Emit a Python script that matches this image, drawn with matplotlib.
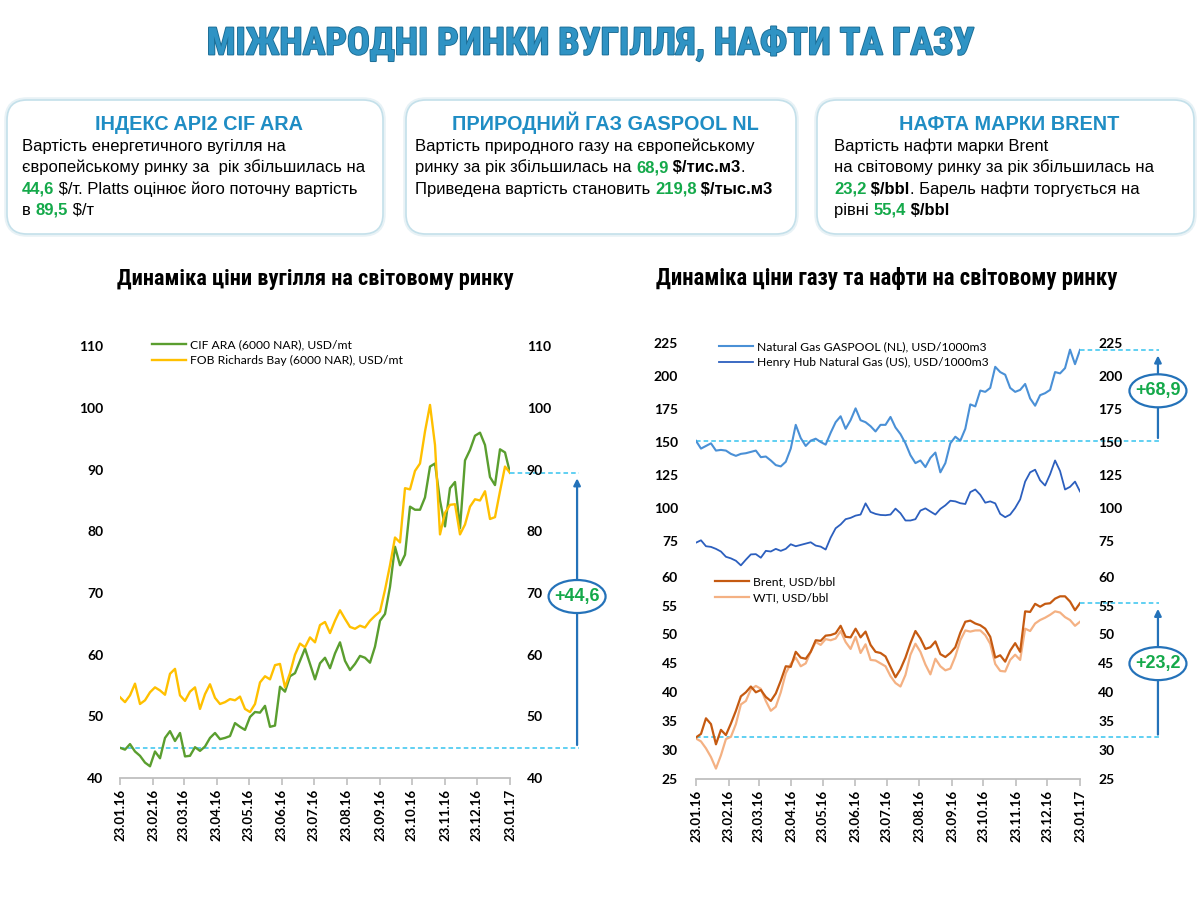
import matplotlib
matplotlib.use('Agg')
import matplotlib.pyplot as plt
import matplotlib.dates as mdates
import matplotlib.transforms as mtransforms
import matplotlib.patheffects as pe
from matplotlib import font_manager
from matplotlib.patches import FancyBboxPatch, Ellipse
import pandas as pd

# ---------------- data ----------------
cif_ara = [44.9, 44.6, 45.5, 44.3, 43.6, 42.5, 41.9, 44.3, 43.2, 46.5,
           47.6, 46.0, 47.3, 43.5, 43.6, 45.0, 44.4, 45.1, 46.5, 47.3,
           46.3, 46.5, 46.8, 48.9, 48.3, 47.8, 49.9, 50.7, 50.6, 51.7,
           48.3, 48.5, 54.8, 54.0, 56.5, 57.0, 59.0, 61.0, 58.5, 56.0,
           58.6, 59.5, 57.8, 60.2, 62.0, 59.0, 57.5, 58.5, 59.8, 59.5,
           58.7, 61.3, 65.5, 66.6, 71.0, 77.5, 74.5, 76.2, 84.0, 83.5,
           83.5, 85.5, 90.5, 91.0, 85.0, 80.8, 87.0, 88.0, 80.5, 91.5,
           93.2, 95.5, 96.0, 94.0, 88.8, 87.5, 93.3, 92.8, 89.5]
fob_richards = [53.1, 52.3, 53.4, 55.3, 52.0, 52.6, 53.9, 54.7, 54.2, 53.5,
                56.9, 57.7, 53.4, 52.5, 54.0, 54.7, 51.2, 53.6, 55.2, 53.0,
                52.0, 52.3, 52.8, 52.6, 53.2, 51.2, 50.7, 52.0, 55.5, 56.5,
                56.0, 58.3, 58.5, 54.7, 57.0, 60.0, 61.8, 61.2, 62.8, 62.0,
                64.8, 65.3, 63.5, 65.5, 67.2, 65.8, 64.5, 64.2, 64.7, 64.4,
                65.5, 66.3, 67.0, 70.5, 74.5, 79.0, 78.2, 87.0, 86.8, 89.8,
                91.0, 96.2, 100.5, 94.0, 79.5, 83.0, 84.3, 84.4, 79.5, 81.1,
                84.0, 85.2, 85.0, 86.5, 82.0, 82.3, 86.5, 90.5, 89.5]
gaspool = [150.9, 145, 147, 149, 143.5, 144, 143.5, 141, 139.5, 141,
           141.5, 142.5, 143.5, 138.5, 139, 136, 132.5, 131.5, 135, 145,
           163, 153, 147, 151, 152.5, 150, 148, 157, 165, 169.5,
           160, 166.6, 175.5, 166.5, 165, 162, 158, 163, 163, 169,
           161, 156, 149, 140, 134, 136, 131, 138, 142, 127,
           134, 149, 154, 151, 160, 178.5, 177, 189, 188, 191,
           207, 203, 201, 191, 188, 189.5, 194, 183, 177.5, 185.5,
           187, 189.5, 203, 202, 206, 220, 209, 219.8]
henry_hub = [73.7, 75.5, 71, 70.5, 69, 67, 63, 61.8, 60, 56.5,
             60.8, 64.8, 65, 62.3, 67.5, 67, 69, 67.5, 69, 72.5,
             71, 72, 73, 74, 71.5, 70.7, 68.5, 77.5, 84.6, 87.5,
             91.5, 92.5, 94.2, 95, 103.5, 97, 95.5, 94.7, 94.5, 95,
             99.5, 96, 90.5, 90.5, 91.5, 98, 99.7, 97.3, 95, 99.3,
             102, 105.5, 105, 103.6, 103, 112, 114, 110, 104, 105,
             103.5, 95.5, 93, 95, 100, 106.5, 120, 127, 129, 121,
             117, 125.5, 136, 128, 114, 116, 120, 112.5]
brent = [32.2, 32.8, 35.5, 34.5, 31.0, 33.5, 32.6, 34.6, 36.8, 39.3,
         40.0, 41.0, 40.0, 40.4, 39.2, 38.5, 39.8, 42.0, 44.5, 44.4,
         47.0, 46.0, 45.8, 47.0, 49.0, 48.9, 49.8, 49.9, 50.2, 51.5,
         49.6, 49.5, 51.0, 49.5, 50.5, 48.2, 47.0, 46.8, 46.2, 44.4,
         42.6, 44.0, 46.0, 48.5, 50.6, 49.3, 47.5, 47.8, 48.8, 46.6,
         46.1, 46.8, 47.8, 50.3, 52.2, 52.4, 51.9, 51.6, 51.0, 49.6,
         46.0, 46.4, 45.3, 47.2, 48.5, 47.0, 54.0, 53.9, 55.3, 54.8,
         55.3, 55.4, 56.2, 56.6, 56.6, 55.7, 54.2, 55.4]
wti = [32.0, 31.5, 30.3, 28.8, 26.8, 29.1, 31.9, 32.3, 34.5, 37.9,
       38.5, 40.5, 41.1, 40.6, 38.5, 36.8, 37.5, 40.0, 43.3, 44.9,
       46.0, 44.5, 45.0, 47.0, 48.7, 48.2, 49.2, 49.0, 49.3, 50.6,
       48.7, 47.5, 49.6, 46.8, 48.3, 45.6, 45.5, 45.0, 44.5, 42.8,
       41.6, 41.0, 43.0, 46.5, 48.4, 47.0, 44.8, 43.1, 45.8, 44.5,
       43.8, 44.1, 46.2, 49.0, 50.7, 50.5, 50.7, 50.7, 49.9, 48.4,
       44.9, 43.7, 43.6, 45.6, 46.5, 45.6, 51.0, 50.6, 51.9, 52.5,
       52.9, 53.4, 54.0, 53.8, 53.0, 52.5, 51.5, 52.2]

date_start, date_end = '2016-01-23', '2017-01-23'
coal_ticks = [40, 50, 60, 70, 80, 90, 100, 110]
gas_ticks = [75, 100, 125, 150, 175, 200, 225]
oil_ticks = [25, 30, 35, 40, 45, 50, 55, 60]

title = 'МІЖНАРОДНІ РИНКИ ВУГІЛЛЯ, НАФТИ ТА ГАЗУ'
coal_title = 'Динаміка ціни вугілля на світовому ринку'
gasoil_title = 'Динаміка ціни газу та нафти на світовому ринку'

# ---------------- fonts / colours ----------------
fonts = font_manager.fontManager.ttflist
installed = {f.name for f in fonts}


def pick(*names):
    for n in names:
        if n in installed:
            return n
    return 'DejaVu Sans'


BODY = pick('Liberation Sans', 'Arimo')
TICKF = pick('Lato', 'Open Sans')

# condensed heavy face for the headings, if one is installed
HEAD_KW = dict(family=[BODY, 'DejaVu Sans'], weight='bold')
for cand in ['Liberation Sans Narrow', 'Noto Sans Condensed',
             'Roboto Condensed', 'Open Sans Condensed', 'DejaVu Sans Condensed']:
    if cand in installed:
        HEAD_KW = dict(family=[cand, 'DejaVu Sans'], weight='bold')
        break
else:
    for fam in ['Noto Sans', 'DejaVu Sans']:
        if any(f.name == fam and f.stretch in ('condensed', 'semi-condensed')
               and f.weight in ('bold', 700) for f in fonts):
            HEAD_KW = dict(family=[fam], weight='bold', fontstretch='condensed')
            break

plt.rcParams['font.family'] = [TICKF, 'DejaVu Sans']
plt.rcParams['font.weight'] = 'bold'

C_CIF = '#5a9e2f'
C_FOB = '#ffc000'
C_GASPOOL = '#4a90d6'
C_HH = '#2c5fbe'
C_BRENT = '#c55a11'
C_WTI = '#f4b183'
C_DASH = '#35c4ef'
C_ARROW = '#2472b9'
C_NUM = '#14a94a'
C_HEAD = '#1f8dc4'
C_SPINE = '#bfbfbf'

fig = plt.figure(figsize=(12, 9), dpi=100)
over = fig.add_axes([0, 0, 1, 1])
over.set_xlim(0, 1200)
over.set_ylim(900, 0)
over.axis('off')
renderer = fig.canvas.get_renderer()


def text_width(s, **kw):
    t = over.text(0, 0, '|' + s + '|', **kw)
    w1 = t.get_window_extent(renderer).width
    t.remove()
    t = over.text(0, 0, '||', **kw)
    w0 = t.get_window_extent(renderer).width
    t.remove()
    return w1 - w0


def fit_text(x, y, s, width, **kw):
    # size the heading so it spans the same width as in the reference
    size = 20 * width / text_width(s, fontsize=20, **kw)
    return over.text(x, y, s, ha='center', va='center', fontsize=size, **kw)


def rich_line(x, y, parts, size=12):
    for s, color, weight in parts:
        kw = dict(family=[BODY, 'DejaVu Sans'], fontsize=size, color=color,
                  weight=weight)
        over.text(x, y, s, ha='left', va='baseline', **kw)
        x += text_width(s, **kw)


# ---------------- title ----------------
fit_text(591, 44, title, 768, color='#2f93c4',
         path_effects=[pe.withStroke(linewidth=1.3, foreground='#1b6c94')],
         **HEAD_KW)

K, G = 'black', C_NUM
boxes = [
    (5, 385, 'ІНДЕКС API2 CIF ARA', 22, [
        [('Вартість енергетичного вугілля на', K, 'normal')],
        [('європейському ринку за  рік збільшилась на', K, 'normal')],
        [('44,6', G, 'bold'), (' $/т. Platts оцінює його поточну вартість', K, 'normal')],
        [('в ', K, 'normal'), ('89,5', G, 'bold'), (' $/т', K, 'normal')],
    ]),
    (404, 798, 'ПРИРОДНИЙ ГАЗ GASPOOL NL', 415, [
        [('Вартість природного газу на європейському', K, 'normal')],
        [('ринку за рік збільшилась на ', K, 'normal'), ('68,9', G, 'bold'),
         (' $/тис.м3', K, 'bold'), ('.', K, 'normal')],
        [('Приведена вартість становить ', K, 'normal'), ('219,8', G, 'bold'),
         (' $/тыс.м3', K, 'bold')],
    ]),
    (815, 1196, 'НАФТА МАРКИ BRENT', 834, [
        [('Вартість нафти марки Brent', K, 'normal')],
        [('на світовому ринку за рік збільшилась на', K, 'normal')],
        [('23,2', G, 'bold'), (' $/bbl', K, 'bold'),
         ('. Барель нафти торгується на', K, 'normal')],
        [('рівні ', K, 'normal'), ('55,4', G, 'bold'), (' $/bbl', K, 'bold')],
    ]),
]
for x0, x1, head, tx, lines in boxes:
    over.add_patch(FancyBboxPatch((x0 + 2, 100), x1 - x0 - 4, 134,
                                  boxstyle='round,pad=0,rounding_size=20',
                                  fc='white', ec='#e8f2f6', lw=4, zorder=1))
    over.add_patch(FancyBboxPatch((x0 + 2, 100), x1 - x0 - 4, 134,
                                  boxstyle='round,pad=0,rounding_size=20',
                                  fc='white', ec='#c4e0ea', lw=1.2, zorder=2))
    over.text((x0 + x1) / 2 + 4, 130, head, ha='center', va='baseline',
              family=[BODY, 'DejaVu Sans'], fontsize=14.3, weight='bold',
              color=C_HEAD, zorder=3)
    for i, parts in enumerate(lines):
        rich_line(tx, 151 + i * 21.3, parts)

fit_text(315, 279, coal_title, 395, color='black', **HEAD_KW)
fit_text(887, 279, gasoil_title, 461, color='black', **HEAD_KW)


# ---------------- charts ----------------
def style(ax, ticks, ylim, pad, bottom=True):
    ax.set_facecolor('none')
    for s in ['top', 'left', 'right']:
        ax.spines[s].set_visible(False)
    ax.spines['bottom'].set_color(C_SPINE)
    ax.spines['bottom'].set_linewidth(1.3)
    ax.set_xlim(pd.Timestamp(date_start), pd.Timestamp(date_end))
    ax.set_ylim(*ylim)
    ax.set_yticks(ticks)
    ax.tick_params(axis='y', length=0, labelleft=True, labelright=True,
                   pad=pad, labelsize=10)
    if bottom:
        ax.xaxis.set_major_locator(mdates.MonthLocator(bymonthday=23))
        ax.xaxis.set_major_formatter(mdates.DateFormatter('%d.%m.%y'))
        ax.tick_params(axis='x', rotation=90, length=5, width=1.2,
                       color=C_SPINE, labelsize=9.5, pad=3)
    else:
        ax.spines['bottom'].set_visible(False)
        ax.tick_params(axis='x', bottom=False, labelbottom=False)


def mark_change(ax, series, xa, label):
    start, end = series[0], series[-1]
    tr = ax.get_yaxis_transform()
    dash = dict(color=C_DASH, lw=1.1, ls=(0, (3, 2)), clip_on=False, zorder=1)
    ax.plot([0, xa + 0.004], [start, start], transform=tr, **dash)
    ax.plot([1, xa + 0.004], [end, end], transform=tr, **dash)
    ax.annotate('', xy=(xa, end), xytext=(xa, start), xycoords=tr,
                textcoords=tr, annotation_clip=False,
                arrowprops=dict(arrowstyle='-|>', color=C_ARROW, lw=1.6,
                                shrinkA=2, shrinkB=4, mutation_scale=10))
    mid = start + 0.55 * (end - start)
    trans = fig.dpi_scale_trans + mtransforms.ScaledTranslation(xa, mid, tr)
    ax.add_patch(Ellipse((0, 0), 0.57, 0.33, transform=trans, fc='white',
                         ec=C_ARROW, lw=1.6, clip_on=False, zorder=5))
    ax.text(xa, mid, label, transform=tr, ha='center', va='center',
            color=C_NUM, fontsize=13, weight='bold', zorder=6,
            family=[BODY, 'DejaVu Sans'])


def change_label(series):
    return '+' + f'{series[-1] - series[0]:.1f}'.replace('.', ',')


leg_kw = dict(frameon=False, borderpad=0, borderaxespad=0, handlelength=2.8,
              handletextpad=0.35, labelspacing=0.42,
              prop=dict(size=8.7, weight='normal'),
              bbox_transform=fig.transFigure, loc='upper left')

# coal
ax1 = fig.add_axes([120 / 1200, 122 / 900, 390 / 1200, 444 / 900])
d_coal = pd.date_range(date_start, date_end, periods=len(cif_ara))
ax1.plot(d_coal, cif_ara, color=C_CIF, lw=1.7, label='CIF ARA (6000 NAR), USD/mt')
ax1.plot(d_coal, fob_richards, color=C_FOB, lw=1.7,
         label='FOB Richards Bay (6000 NAR), USD/mt')
style(ax1, coal_ticks, (40, 112), 12)
ax1.legend(bbox_to_anchor=(152 / 1200, 1 - 339 / 900), **leg_kw)
mark_change(ax1, cif_ara, 1.172, change_label(cif_ara))

# gas (upper part of the right chart)
ax2 = fig.add_axes([696 / 1200, 332 / 900, 384 / 1200, 233 / 900])
d_gas = pd.date_range(date_start, date_end, periods=len(gaspool))
ax2.plot(d_gas, gaspool, color=C_GASPOOL, lw=1.5,
         label='Natural Gas GASPOOL (NL), USD/1000m3')
ax2.plot(d_gas, henry_hub, color=C_HH, lw=1.3,
         label='Henry Hub Natural Gas (US), USD/1000m3')
style(ax2, gas_ticks, (54.5, 231.1), 13, bottom=False)
ax2.legend(bbox_to_anchor=(719 / 1200, 1 - 341 / 900), **leg_kw)
mark_change(ax2, gaspool, 1.203, change_label(gaspool))

# oil (lower part of the right chart)
ax3 = fig.add_axes([696 / 1200, 121 / 900, 384 / 1200, 211 / 900])
d_oil = pd.date_range(date_start, date_end, periods=len(brent))
l_wti, = ax3.plot(d_oil, wti, color=C_WTI, lw=1.6, label='WTI, USD/bbl')
l_brent, = ax3.plot(d_oil, brent, color=C_BRENT, lw=1.6, label='Brent, USD/bbl')
style(ax3, oil_ticks, (25, 61.5), 13)
ax3.legend(handles=[l_brent, l_wti], bbox_to_anchor=(715 / 1200, 1 - 576 / 900),
           **leg_kw)
mark_change(ax3, brent, 1.203, change_label(brent))

fig.savefig('out.png', dpi=100)
